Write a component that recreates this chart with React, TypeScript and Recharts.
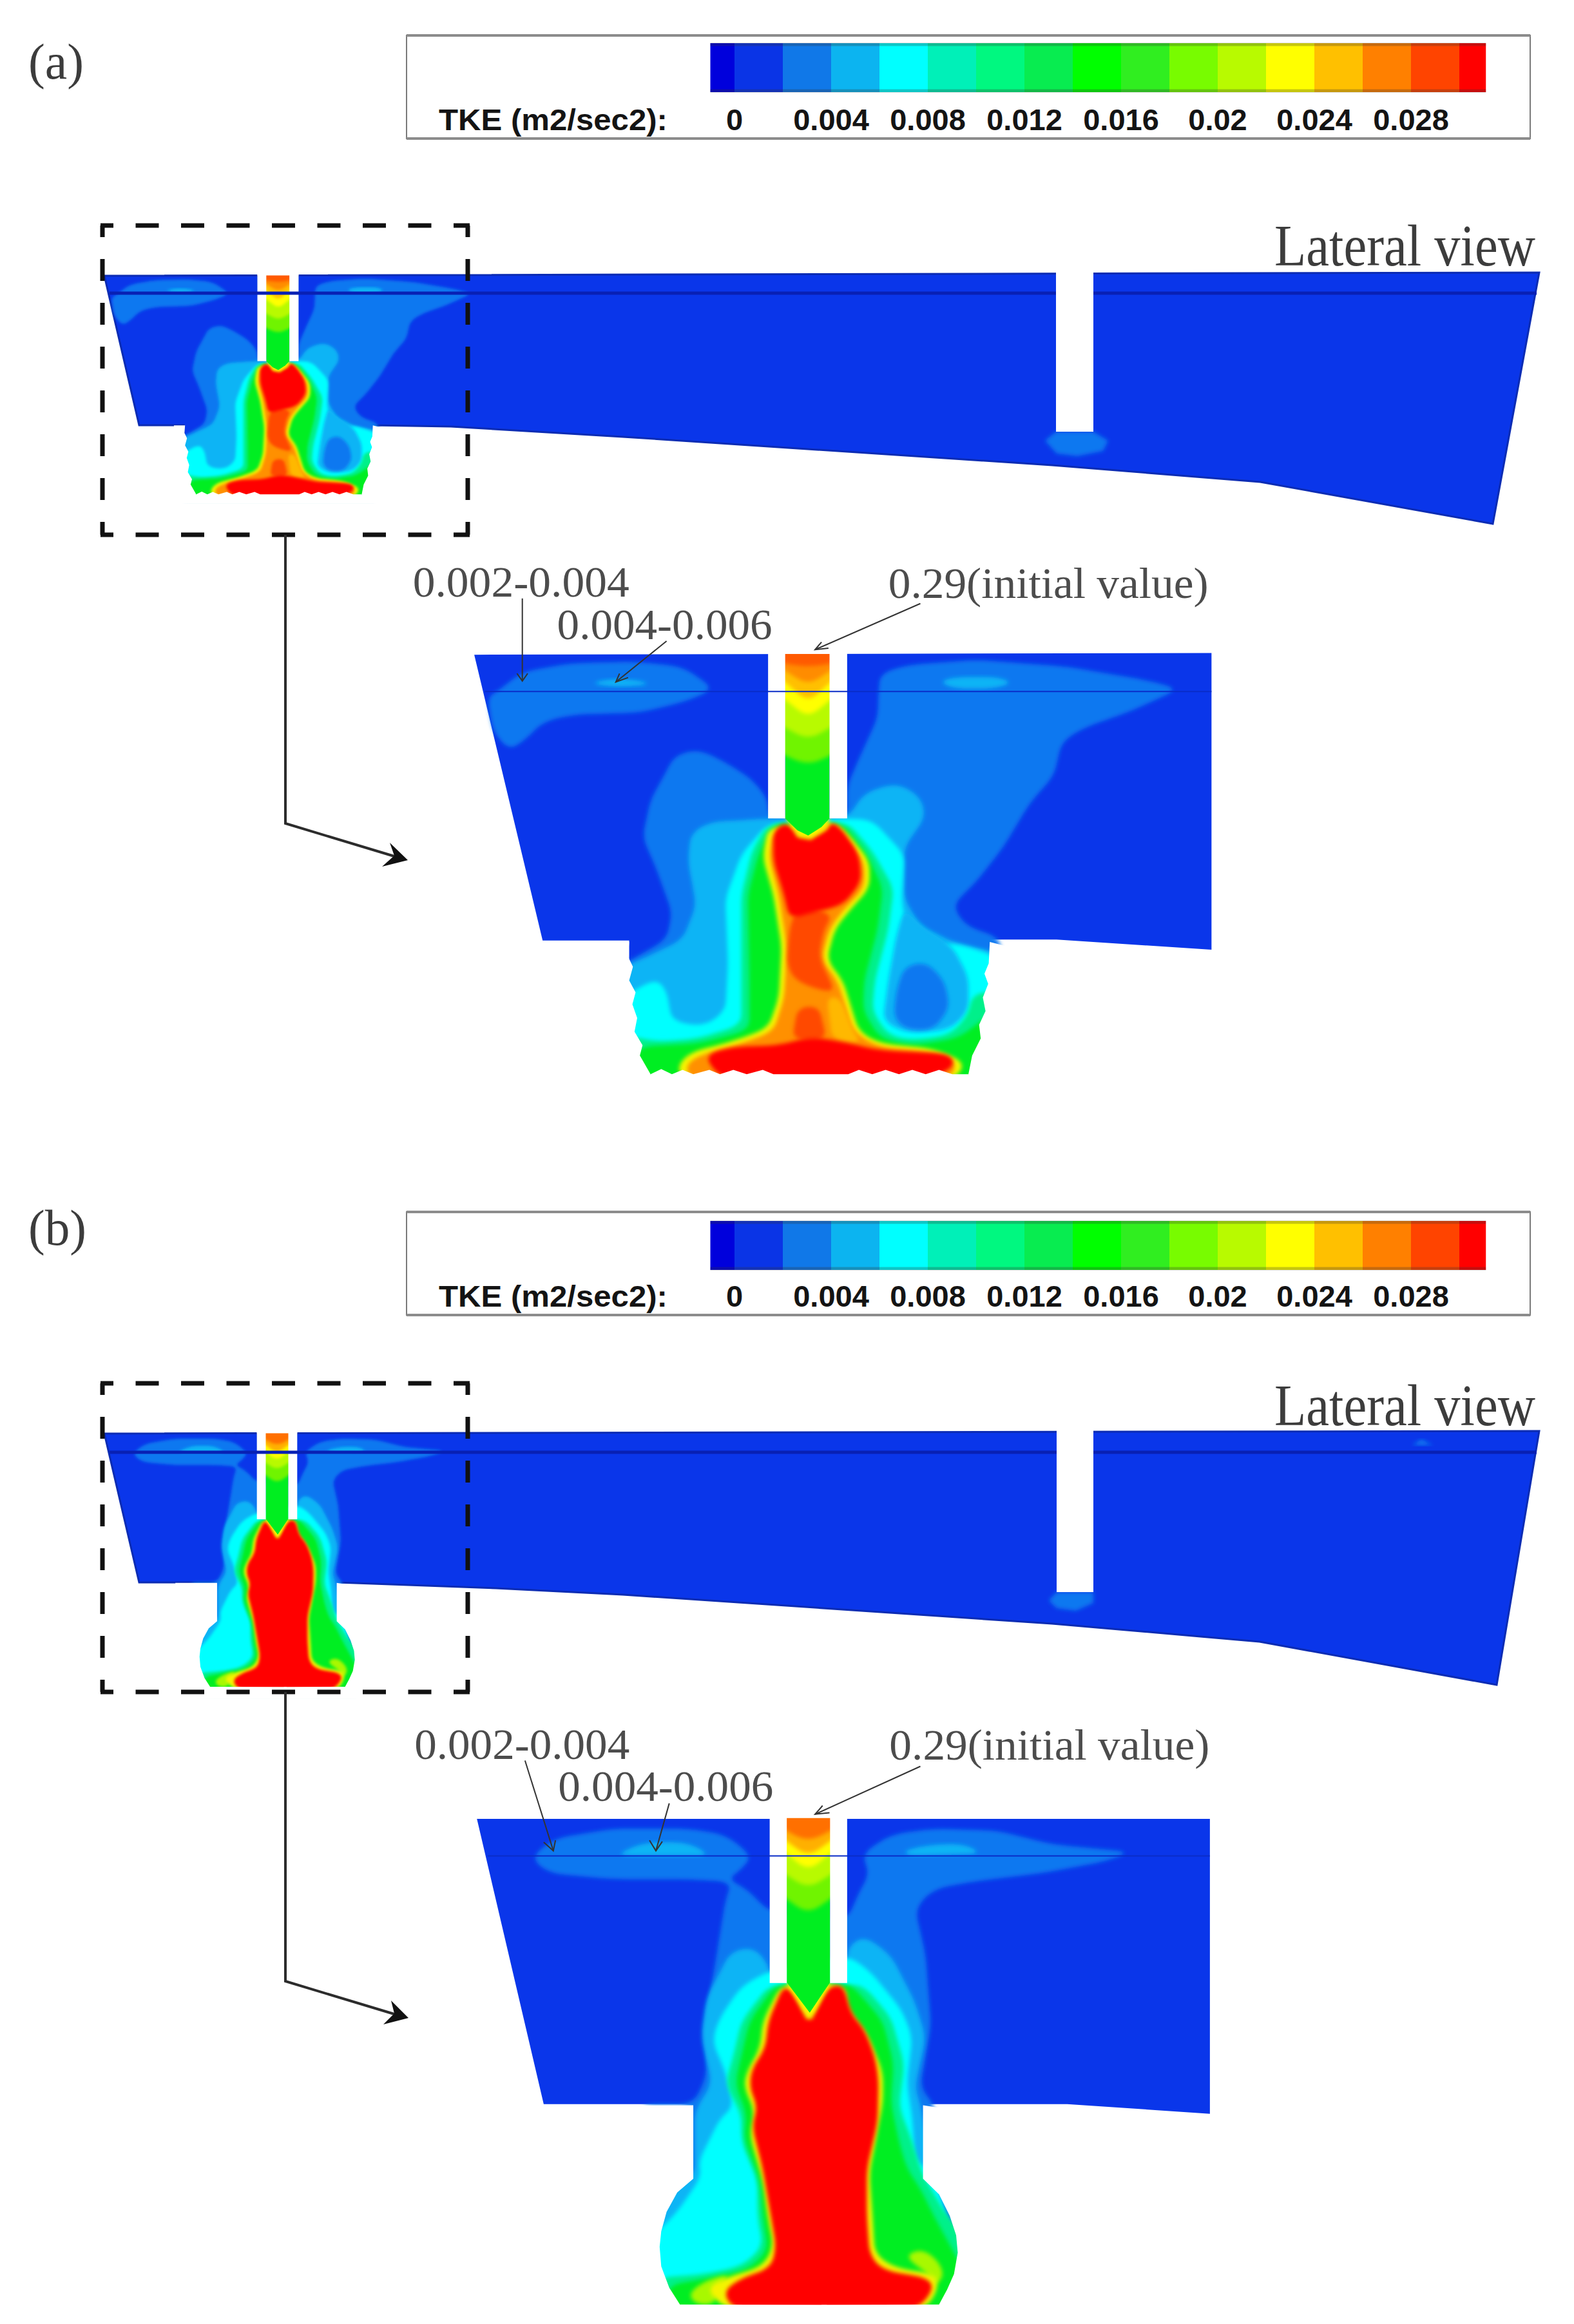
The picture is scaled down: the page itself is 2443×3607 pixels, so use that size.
import React from 'react';
import { ScatterChart, Scatter, XAxis, YAxis, Curve } from 'recharts';

type P = [number, number];
const W = 2443, H = 3607;

// ---------- legend ----------
const legendEdges = [-0.001, 0, 0.002, 0.004, 0.006, 0.008, 0.01, 0.012, 0.014, 0.016, 0.018, 0.02, 0.022, 0.024, 0.026, 0.028, 0.03, 0.0311];
const legendColors = ['#0000dc', '#0a34e6', '#1078e8', '#0cb4f0', '#00ffff', '#00f0b8', '#00f880', '#08ec50', '#00ff00', '#30ee20', '#78fc00', '#b8fa00', '#ffff00', '#ffc000', '#ff8000', '#ff4400', '#ff0000'];
const legendTicks = [0, 0.004, 0.008, 0.012, 0.016, 0.02, 0.024, 0.028];
const legendTickLabels = ['0', '0.004', '0.008', '0.012', '0.016', '0.02', '0.024', '0.028'];
const legendRows = [
  { barTop: 67, barBottom: 143, boxTop: 55, boxBottom: 215, baseline: 202 },
  { barTop: 1895, barBottom: 1971, boxTop: 1881, boxBottom: 2041, baseline: 2028 },
];

// ---------- whole-channel outlines (page units) ----------
const miniBodyA: P[] = [[162, 428], [2389, 423], [2317, 813], [1956, 748], [1633, 722], [967, 678], [700, 662], [578, 660], [571, 723], [559, 767], [301, 767], [287, 697], [285, 660], [216, 660]];
const miniBodyB: P[] = [[162, 2225], [2389, 2221], [2323, 2615], [1955, 2548], [1633, 2520], [967, 2475], [770, 2465], [524, 2456], [524, 2517], [540, 2535], [552, 2567], [538, 2618], [328, 2618], [310, 2567], [322, 2535], [338, 2517], [338, 2456], [216, 2456]];
const miniSurfaceA: P[] = [[170, 455], [2385, 455]];
const miniSurfaceB: P[] = [[170, 2254], [2385, 2254]];
const baffleA: P[] = [[1639, 415], [1697, 415], [1697, 670], [1639, 670]];
const baffleB: P[] = [[1640, 2215], [1697, 2215], [1697, 2471], [1640, 2471]];
const wakeA: P[] = [[1622, 684], [1639, 670], [1697, 670], [1720, 684], [1712, 700], [1672, 708], [1640, 704]];
const wakeB: P[] = [[1628, 2484], [1640, 2471], [1697, 2471], [1697, 2488], [1670, 2500], [1640, 2496]];
const speckB: P[] = [[2192, 2243], [2206, 2234], [2224, 2243]];
const dashBoxA = { left: 159, right: 726, top: 350, bottom: 830 };
const dashBoxB = { left: 159, right: 726, top: 2147, bottom: 2626 };
const leaderA: P[] = [[443, 830], [443, 1278], [612, 1329]];
const leaderB: P[] = [[443, 2626], [443, 3075], [612, 3126]];
const headA: P[] = [[633, 1335], [605, 1308], [612, 1328], [593, 1345]];
const headB: P[] = [[634, 3132], [607, 3105], [612, 3125], [595, 3142]];

// ---------- panel (a) contours (inset units) ----------
const aBody: P[] = [[140, 295], [1520, 290], [1520, 1160], [1230, 1130], [1105, 1130], [1105, 1530], [430, 1530], [430, 1133], [268, 1133]];
const aSurface: P[] = [[160, 403], [1520, 403]];
const aLobeLeft: P[] = [[185, 400], [230, 345], [320, 320], [440, 315], [530, 330], [590, 395], [540, 430], [450, 465], [330, 470], [270, 490], [235, 545], [205, 575], [175, 520], [165, 420]];
const aMid: P[] = [[515, 590], [560, 572], [610, 610], [660, 660], [690, 720], [690, 770], [838, 770], [838, 680], [860, 600], [895, 480], [897, 400], [900, 350], [950, 325], [1080, 310], [1250, 330], [1400, 370], [1460, 395], [1370, 460], [1280, 510], [1240, 550], [1225, 650], [1180, 730], [1130, 860], [1080, 960], [1035, 1030], [1060, 1090], [1125, 1125], [1130, 1560], [405, 1560], [405, 1215], [500, 1130], [510, 1050], [480, 920], [455, 830], [470, 720], [495, 650]];
const aPatchLeft: P[] = [[355, 378], [400, 365], [450, 370], [470, 383], [400, 390]];
const aPatchRight: P[] = [[1010, 375], [1040, 360], [1120, 360], [1148, 378], [1110, 395], [1040, 395]];
const aLight: P[] = [[545, 820], [580, 785], [640, 780], [690, 775], [838, 775], [870, 700], [930, 670], [975, 710], [985, 770], [945, 860], [945, 1010], [975, 1090], [1040, 1140], [1125, 1170], [1130, 1560], [405, 1560], [405, 1220], [450, 1190], [530, 1130], [555, 1030], [540, 900]];
const aCyan: P[] = [[838, 775], [885, 780], [945, 880], [940, 1020], [950, 1100], [1000, 1150], [1040, 1140], [1120, 1180], [1130, 1560], [405, 1560], [415, 1300], [480, 1245], [500, 1280], [510, 1370], [570, 1385], [610, 1340], [615, 1200], [610, 1010], [640, 880], [690, 790]];
const aInnerLight: P[] = [[945, 1040], [975, 1090], [1035, 1150], [1065, 1240], [1065, 1340], [1030, 1395], [950, 1405], [905, 1370], [915, 1250], [930, 1120]];
const aHole: P[] = [[945, 1210], [985, 1195], [1020, 1250], [1030, 1330], [1000, 1395], [950, 1395], [925, 1360], [930, 1280]];
const aSpring: P[] = [[690, 790], [660, 870], [640, 1000], [640, 1250], [640, 1380], [560, 1420], [480, 1430], [425, 1410], [415, 1560], [1125, 1560], [1120, 1280], [1072, 1290], [1065, 1350], [1030, 1410], [960, 1425], [915, 1410], [885, 1340], [890, 1250], [915, 1100], [925, 980], [885, 870], [838, 785]];
const aGreen: P[] = [[700, 790], [672, 880], [652, 1000], [655, 1250], [655, 1395], [560, 1435], [445, 1445], [425, 1560], [1110, 1560], [1105, 1350], [1045, 1420], [960, 1440], [900, 1420], [868, 1340], [870, 1250], [895, 1100], [905, 980], [875, 880], [830, 790]];
const aYellow: P[] = [[690, 800], [680, 890], [700, 1000], [715, 1150], [710, 1300], [690, 1390], [620, 1430], [545, 1460], [520, 1500], [530, 1540], [1040, 1540], [1060, 1490], [1000, 1450], [900, 1435], [860, 1400], [830, 1250], [800, 1190], [815, 1100], [840, 1050], [880, 980], [880, 900], [840, 820], [815, 785]];
const aOrange: P[] = [[700, 810], [692, 890], [710, 1000], [725, 1150], [720, 1300], [700, 1400], [630, 1440], [560, 1470], [535, 1500], [545, 1540], [1030, 1540], [1045, 1490], [995, 1460], [895, 1445], [850, 1400], [820, 1250], [790, 1190], [805, 1100], [830, 1045], [870, 980], [870, 900], [830, 825], [810, 790]];
const aAmber: P[] = [[800, 1300], [825, 1300], [850, 1400], [865, 1435], [810, 1425]];
const aRedOrange: P[] = [[740, 1050], [780, 1040], [810, 1060], [795, 1100], [785, 1180], [815, 1280], [790, 1280], [740, 1250], [725, 1200], [730, 1100]];
const aRedOrangeLow: P[] = [[745, 1330], [785, 1325], [800, 1425], [735, 1425]];
const aRedTop: P[] = [[700, 810], [725, 785], [745, 825], [770, 830], [800, 810], [810, 785], [830, 810], [860, 880], [865, 960], [830, 1030], [775, 1050], [730, 1070], [720, 1000], [700, 900]];
const aRedBase: P[] = [[570, 1470], [620, 1445], [710, 1440], [770, 1415], [830, 1430], [900, 1455], [1030, 1465], [1040, 1500], [1000, 1535], [600, 1535]];
const aMaskLeft: P[] = [[390, 1137], [430, 1137], [428, 1180], [437, 1210], [430, 1250], [442, 1285], [436, 1320], [445, 1360], [440, 1400], [455, 1440], [450, 1470], [470, 1525], [470, 1575], [390, 1575]];
const aMaskRight: P[] = [[1150, 1155], [1105, 1137], [1103, 1200], [1095, 1230], [1102, 1260], [1092, 1300], [1097, 1340], [1085, 1380], [1088, 1420], [1072, 1470], [1065, 1525], [1065, 1575], [1150, 1575]];
const aTeeth: P[] = [[460, 1575], [470, 1525], [490, 1510], [510, 1525], [530, 1512], [550, 1525], [580, 1512], [600, 1525], [625, 1512], [650, 1525], [680, 1512], [700, 1525], [840, 1525], [860, 1512], [885, 1525], [910, 1512], [935, 1525], [960, 1512], [985, 1525], [1010, 1512], [1035, 1525], [1065, 1525], [1075, 1575]];
const aSlotLeft: P[] = [[690, 285], [722, 285], [722, 775], [690, 775]];
const aSlotRight: P[] = [[805, 285], [838, 285], [838, 775], [805, 775]];
const aStemCap: P[] = [[690, 220], [838, 220], [838, 293], [690, 293]];
const aStemRim: P[] = [[722, 770], [805, 770], [800, 805], [770, 838], [745, 830], [735, 800]];
const aStem0: P[] = [[722, 295], [805, 295], [805, 775], [790, 800], [765, 825], [745, 810], [722, 775]];
const aStem1: P[] = [[700, 265], [828, 265], [828, 575], [765, 620], [700, 575]];
const aStem2: P[] = [[700, 265], [828, 265], [828, 490], [765, 545], [700, 490]];
const aStem3: P[] = [[700, 265], [828, 265], [828, 400], [765, 480], [700, 400]];
const aStem4: P[] = [[700, 265], [828, 265], [828, 345], [765, 435], [700, 345]];
const aStem5: P[] = [[700, 265], [828, 265], [828, 320], [765, 385], [700, 320]];
const aStem6: P[] = [[700, 265], [828, 265], [828, 315], [765, 332], [700, 315]];
const aArrows: P[][] = [
  [[230, 130], [230, 372]], [[220, 350], [230, 372], [240, 350]],
  [[500, 255], [405, 375]], [[412, 350], [405, 375], [428, 362]],
  [[975, 145], [778, 280]], [[790, 258], [778, 280], [803, 276]],
];

// ---------- panel (b) contours (inset units) ----------
const bBody: P[] = [[145, 270], [1517, 270], [1517, 1028], [1250, 1003], [980, 1003], [980, 1195], [1025, 1260], [1045, 1370], [1040, 1440], [1010, 1518], [525, 1518], [495, 1440], [487, 1370], [500, 1280], [550, 1195], [550, 1003], [270, 1003]];
const bSurface: P[] = [[165, 365], [1517, 365]];
const bMid: P[] = [[245, 370], [290, 320], [400, 295], [540, 295], [610, 310], [660, 365], [640, 400], [615, 425], [650, 450], [693, 510], [838, 530], [860, 460], [880, 410], [865, 360], [920, 310], [1000, 295], [1120, 300], [1220, 335], [1370, 355], [1320, 380], [1200, 410], [1080, 430], [1000, 450], [965, 500], [985, 620], [995, 800], [975, 960], [1000, 1003], [1080, 1560], [450, 1560], [450, 1003], [550, 1003], [575, 930], [570, 800], [590, 650], [610, 480], [622, 432], [540, 425], [400, 425], [280, 410]];
const bPatchLeft: P[] = [[415, 355], [460, 330], [540, 330], [585, 365], [415, 365]];
const bPatchRight: P[] = [[945, 350], [1000, 335], [1060, 335], [1090, 360], [950, 365]];
const bLight: P[] = [[620, 610], [665, 600], [693, 650], [693, 690], [838, 690], [838, 600], [870, 570], [920, 620], [965, 740], [985, 830], [965, 960], [975, 1003], [1000, 1190], [1080, 1560], [450, 1560], [450, 1200], [553, 1190], [553, 1020], [585, 950], [565, 830], [575, 730]];
const bCyan: P[] = [[600, 780], [640, 700], [693, 660], [838, 620], [880, 660], [940, 760], [960, 830], [950, 950], [960, 1040], [965, 1150], [1000, 1180], [1080, 1560], [460, 1560], [470, 1350], [520, 1280], [565, 1190], [560, 1150], [600, 1040], [625, 1010], [610, 920], [585, 840]];
const bSpring: P[] = [[693, 695], [640, 790], [625, 880], [610, 950], [640, 1030], [640, 1100], [670, 1200], [670, 1290], [680, 1370], [640, 1420], [570, 1440], [480, 1450], [490, 1560], [1080, 1560], [1080, 1370], [1025, 1290], [990, 1210], [975, 1170], [960, 1100], [935, 1010], [945, 900], [920, 780], [870, 700], [838, 695]];
const bGreen: P[] = [[705, 695], [655, 790], [640, 880], [628, 950], [650, 1030], [645, 1090], [675, 1200], [680, 1290], [690, 1380], [650, 1430], [560, 1455], [500, 1470], [510, 1560], [1060, 1560], [1060, 1440], [1000, 1290], [975, 1220], [950, 1170], [935, 1100], [920, 1000], [925, 900], [905, 790], [855, 710], [838, 695]];
const bLime: P[] = [[945, 1395], [975, 1375], [1005, 1400], [1020, 1440], [1005, 1470], [990, 1440]];
const bLimeLeft: P[] = [[540, 1490], [575, 1455], [620, 1440], [600, 1470], [590, 1518], [555, 1518]];
const bYellow: P[] = [[715, 695], [680, 790], [675, 860], [650, 920], [645, 960], [665, 1020], [655, 1080], [680, 1200], [690, 1300], [700, 1370], [680, 1420], [600, 1455], [575, 1480], [610, 1530], [985, 1530], [1008, 1480], [1005, 1440], [930, 1425], [890, 1390], [885, 1280], [880, 1180], [905, 1000], [905, 920], [875, 820], [840, 760], [835, 695]];
const bRed: P[] = [[720, 695], [745, 730], [768, 785], [795, 720], [810, 698], [832, 700], [845, 770], [870, 810], [890, 880], [897, 940], [895, 1050], [875, 1170], [875, 1290], [880, 1390], [905, 1430], [990, 1450], [1000, 1480], [970, 1530], [625, 1530], [605, 1485], [640, 1450], [695, 1425], [705, 1370], [695, 1290], [680, 1170], [660, 1060], [670, 1010], [655, 960], [660, 910], [685, 860], [690, 790]];
const bMaskLeft: P[] = [[400, 1006], [550, 1006], [550, 1195], [520, 1230], [500, 1280], [490, 1330], [487, 1370], [490, 1420], [505, 1475], [525, 1518], [800, 1519], [800, 1575], [400, 1575]];
const bMaskRight: P[] = [[1140, 1040], [980, 1006], [980, 1195], [1010, 1235], [1030, 1290], [1042, 1340], [1045, 1385], [1038, 1440], [1025, 1480], [1010, 1518], [790, 1519], [790, 1575], [1140, 1575]];
const bSlotLeft: P[] = [[693, 262], [725, 262], [725, 692], [693, 692]];
const bSlotRight: P[] = [[806, 262], [838, 262], [838, 692], [806, 692]];
const bStemCap: P[] = [[693, 200], [838, 200], [838, 268], [693, 268]];
const bStemRim: P[] = [[725, 688], [806, 688], [772, 785], [762, 785]];
const bStem0: P[] = [[725, 270], [806, 270], [806, 690], [768, 768], [725, 690]];
const bStem1: P[] = [[703, 240], [828, 240], [828, 455], [765, 515], [703, 455]];
const bStem2: P[] = [[703, 240], [828, 240], [828, 395], [765, 450], [703, 395]];
const bStem3: P[] = [[703, 240], [828, 240], [828, 335], [765, 405], [703, 335]];
const bStem4: P[] = [[703, 240], [828, 240], [828, 305], [765, 368], [703, 305]];
const bStem5: P[] = [[703, 240], [828, 240], [828, 285], [765, 330], [703, 285]];
const bArrows: P[][] = [
  [[235, 120], [288, 352]], [[270, 330], [288, 352], [292, 325]],
  [[505, 230], [480, 352]], [[468, 325], [480, 352], [492, 328]],
  [[975, 135], [778, 258]], [[792, 236], [778, 258], [805, 254]],
];

const aLabels = [
  { x: 25, y: 125, text: '0.002-0.004', span: 336 },
  { x: 295, y: 250, text: '0.004-0.006', span: 334 },
  { x: 915, y: 128, text: '0.29(initial value)', span: 497 },
];
const bLabels = [
  { x: 28, y: 116, text: '0.002-0.004', span: 334 },
  { x: 297, y: 224, text: '0.004-0.006', span: 334 },
  { x: 917, y: 118, text: '0.29(initial value)', span: 497 },
];
const pageLabels = [
  { x: 44, y: 122, text: '(a)', span: 86, size: 78 },
  { x: 44, y: 1932, text: '(b)', span: 90, size: 78 },
  { x: 1978, y: 412, text: 'Lateral view', span: 405, size: 90 },
  { x: 1978, y: 2212, text: 'Lateral view', span: 405, size: 90 },
];

// ---------- colours ----------
const C = {
  base: '#0a36ea', mid: '#0f78f0', light: '#0cb4f5', cyan: '#00ffff', spring: '#00f08a', green: '#00ee20',
  lime: '#a8f800', yellow: '#f4f400', amber: '#ffb800', orange: '#ff9000', redOrange: '#ff4800', red: '#ff0000',
};

// ---------- helpers ----------
const dom = (off: number, k: number, len: number): [number, number] => [-off * k, (len - off) * k];
const pts = (a: P[]) => a.map(([x, y]) => ({ x, y }));
const empty = () => <g />;

// rounds polygon corners so contour bands read as smooth isolines
function rounded(a: P[], R = 30): P[] {
  const out: P[] = [];
  const n = a.length;
  for (let i = 0; i < n; i++) {
    const p = a[i], u = a[(i + n - 1) % n], v = a[(i + 1) % n];
    const du = Math.hypot(u[0] - p[0], u[1] - p[1]) || 1;
    const dv = Math.hypot(v[0] - p[0], v[1] - p[1]) || 1;
    const ru = Math.min(R, du / 2) / du, rv = Math.min(R, dv / 2) / dv;
    const s: P = [p[0] + (u[0] - p[0]) * ru, p[1] + (u[1] - p[1]) * ru];
    const e: P = [p[0] + (v[0] - p[0]) * rv, p[1] + (v[1] - p[1]) * rv];
    for (let k = 0; k <= 5; k++) {
      const t = k / 5;
      out.push([
        (1 - t) * (1 - t) * s[0] + 2 * t * (1 - t) * p[0] + t * t * e[0],
        (1 - t) * (1 - t) * s[1] + 2 * t * (1 - t) * p[1] + t * t * e[1],
      ]);
    }
  }
  return out;
}

let seq = 0;
type Opt = { stroke?: string; sw?: number; dash?: string; dashOffset?: number; blur?: boolean; sharp?: boolean; open?: boolean; yAxis?: string; opacity?: number };
function poly(a: P[], axis: string, fill: string, o: Opt = {}) {
  const line = (p: any) => {
    const c = (
      <Curve
        points={p.points}
        type={o.open ? 'linear' : 'linearClosed'}
        fill={o.open ? 'none' : fill}
        stroke={o.stroke ?? 'none'}
        strokeWidth={o.sw ?? 0}
        strokeDasharray={o.dash}
        strokeDashoffset={o.dashOffset}
        strokeOpacity={o.opacity}
      />
    );
    return o.blur ? <g filter={axis[0] === 'm' ? 'url(#softMini)' : 'url(#soft)'}>{c}</g> : c;
  };
  const data = o.blur && !o.sharp ? rounded(a) : a;
  return (
    <Scatter key={`p${seq++}`} data={pts(data)} xAxisId={axis} yAxisId={o.yAxis ?? axis} isAnimationActive={false} line={line as any} lineType="joint" shape={empty as any} />
  );
}
function text(d: { x: number; y: number; text: string; span?: number; size?: number }, axis: string, style: any, yAxis?: string) {
  const shape = (p: any) => (
    <text x={p.cx} y={p.cy} textLength={d.span} lengthAdjust={d.span ? 'spacingAndGlyphs' : undefined} {...style} fontSize={d.size ?? style.fontSize}>
      {d.text}
    </text>
  );
  return <Scatter key={`t${seq++}`} data={[{ x: d.x, y: d.y }]} xAxisId={axis} yAxisId={yAxis ?? axis} isAnimationActive={false} shape={shape as any} />;
}
function dashedBox(b: { left: number; right: number; top: number; bottom: number }) {
  const h = { stroke: '#111', sw: 7, dash: '36 34.5', dashOffset: 16, open: true };
  const v = { stroke: '#111', sw: 7, dash: '34 34', dashOffset: 16, open: true };
  return [
    poly([[b.left - 3, b.top], [b.right + 3, b.top]], 'page', 'none', h),
    poly([[b.left - 3, b.bottom], [b.right + 3, b.bottom]], 'page', 'none', h),
    poly([[b.left, b.top], [b.left, b.bottom]], 'page', 'none', v),
    poly([[b.right, b.top], [b.right, b.bottom]], 'page', 'none', v),
  ];
}

const contourA = (ax: string) => [
  poly(aLobeLeft, ax, C.mid, { blur: true }),
  poly(aMid, ax, C.mid, { blur: true }),
  poly(aPatchLeft, ax, C.light, { blur: true }),
  poly(aPatchRight, ax, C.light, { blur: true }),
  poly(aLight, ax, C.light, { blur: true }),
  poly(aCyan, ax, C.cyan, { blur: true }),
  poly(aInnerLight, ax, C.light, { blur: true }),
  poly(aHole, ax, C.mid, { blur: true }),
  poly(aSpring, ax, C.spring, { blur: true }),
  poly(aGreen, ax, C.green, { blur: true }),
  poly(aYellow, ax, C.yellow, { blur: true }),
  poly(aOrange, ax, C.orange, { blur: true }),
  poly(aAmber, ax, C.amber, { blur: true }),
  poly(aRedOrange, ax, C.redOrange, { blur: true }),
  poly(aRedOrangeLow, ax, C.redOrange, { blur: true }),
  poly(aRedTop, ax, C.red, { blur: true }),
  poly(aRedBase, ax, C.red, { blur: true }),
  poly(aMaskLeft, ax, '#fff'),
  poly(aMaskRight, ax, '#fff'),
  poly(aTeeth, ax, '#fff'),
  poly(aStemRim, ax, C.yellow, { blur: true, sharp: true }),
  poly(aStem0, ax, '#00ee20'),
  poly(aStem1, ax, '#70f400', { blur: true }),
  poly(aStem2, ax, '#b8fa00', { blur: true }),
  poly(aStem3, ax, '#ffff00', { blur: true }),
  poly(aStem4, ax, '#ffc000', { blur: true }),
  poly(aStem5, ax, '#ff8c00', { blur: true }),
  poly(aStem6, ax, '#ff5a00', { blur: true }),
  poly(aSlotLeft, ax, '#fff'),
  poly(aSlotRight, ax, '#fff'),
  poly(aStemCap, ax, '#fff'),
];
const contourB = (ax: string) => [
  poly(bMid, ax, C.mid, { blur: true }),
  poly(bPatchLeft, ax, C.light, { blur: true }),
  poly(bPatchRight, ax, C.light, { blur: true }),
  poly(bLight, ax, C.light, { blur: true }),
  poly(bCyan, ax, C.cyan, { blur: true }),
  poly(bSpring, ax, C.spring, { blur: true }),
  poly(bGreen, ax, C.green, { blur: true }),
  poly(bLime, ax, C.lime, { blur: true }),
  poly(bLimeLeft, ax, C.lime, { blur: true }),
  poly(bYellow, ax, C.yellow, { blur: true }),
  poly(bRed, ax, C.red, { blur: true }),
  poly(bMaskLeft, ax, '#fff'),
  poly(bMaskRight, ax, '#fff'),
  poly(bStemRim, ax, C.yellow, { blur: true, sharp: true }),
  poly(bStem0, ax, '#00ee20'),
  poly(bStem1, ax, '#70f400', { blur: true }),
  poly(bStem2, ax, '#b8fa00', { blur: true }),
  poly(bStem3, ax, '#ffff00', { blur: true }),
  poly(bStem4, ax, '#ffb000', { blur: true }),
  poly(bStem5, ax, '#ff7000', { blur: true }),
  poly(bSlotLeft, ax, '#fff'),
  poly(bSlotRight, ax, '#fff'),
  poly(bStemCap, ax, '#fff'),
];

const xAxes: [string, number, number][] = [
  ['page', 0, 1], ['ia', 620, 1.206], ['ib', 620, 1.206], ['ma', 101.5, 2.3155], ['mb', 99.4, 2.3155], ['tke', 1140, 1 / 37500],
];
const yAxes: [string, number, number][] = [
  ['page', 0, 1], ['ia', 860, 1.889], ['ib', 2660, 1.656], ['ma', 346.7, 3.627], ['mb', 2140, 3.176],
];

const sans = { fontFamily: '"Liberation Sans", Arial, sans-serif', fontWeight: 700, fill: '#141414' };
const serif = { fontFamily: '"Liberation Serif", serif', fill: '#4c4c4c' };

export default function App() {
  seq = 0;
  return (
    <div style={{ position: 'absolute', left: 0, top: 0, width: W, height: H, background: '#fff' }}>
      <ScatterChart width={W} height={H} margin={{ top: 0, right: 0, bottom: 0, left: 0 }}>
        <defs>
          <filter id="soft" x="-20%" y="-20%" width="140%" height="140%">
            <feGaussianBlur stdDeviation="3.2" />
          </filter>
          <filter id="softMini" x="-20%" y="-20%" width="140%" height="140%">
            <feGaussianBlur stdDeviation="2" />
          </filter>
        </defs>
        {xAxes.map(([id, off, k]) => (
          <XAxis key={id} xAxisId={id} type="number" dataKey="x" domain={dom(off, k, W)} allowDataOverflow hide />
        ))}
        {yAxes.map(([id, off, k]) => (
          <YAxis key={id} yAxisId={id} type="number" dataKey="y" domain={dom(off, k, H)} allowDataOverflow reversed hide />
        ))}

        {/* legends */}
        {legendRows.flatMap((r) => [
          poly([[631, r.boxTop], [2375, r.boxTop], [2375, r.boxBottom], [631, r.boxBottom]], 'page', '#fff', { stroke: '#7a7a7a', sw: 2 }),
          poly([[631, r.boxTop], [2375, r.boxTop]], 'page', 'none', { stroke: '#8c8c8c', sw: 4, open: true }),
          poly([[631, r.boxBottom], [2375, r.boxBottom]], 'page', 'none', { stroke: '#8c8c8c', sw: 4, open: true }),
          ...legendColors.map((c, i) =>
            poly([[legendEdges[i], r.barTop], [legendEdges[i + 1], r.barTop], [legendEdges[i + 1], r.barBottom], [legendEdges[i], r.barBottom]], 'tke', c, { yAxis: 'page' })
          ),
          poly([[legendEdges[0], r.barTop + 2], [legendEdges[17], r.barTop + 2]], 'tke', 'none', { stroke: '#333', sw: 5, open: true, yAxis: 'page', opacity: 0.28 }),
          poly([[legendEdges[0], r.barBottom - 2], [legendEdges[17], r.barBottom - 2]], 'tke', 'none', { stroke: '#333', sw: 5, open: true, yAxis: 'page', opacity: 0.28 }),
          text({ x: 681, y: r.baseline, text: 'TKE (m2/sec2):', span: 355 }, 'page', { ...sans, fontSize: 46 }),
          ...legendTicks.map((v, i) =>
            text({ x: v, y: r.baseline, text: legendTickLabels[i] }, 'tke', { ...sans, fontSize: 47, textAnchor: 'middle' }, 'page')
          ),
        ])}

        {/* full lateral views */}
        {poly(miniBodyA, 'page', C.base, { stroke: '#0c2cb4', sw: 3 })}
        {poly(wakeA, 'page', C.mid, { blur: true, sharp: true })}
        {contourA('ma')}
        {poly(miniSurfaceA, 'page', 'none', { stroke: '#0820b4', sw: 5, open: true })}
        {poly(baffleA, 'page', '#fff')}
        {dashedBox(dashBoxA)}

        {poly(miniBodyB, 'page', C.base, { stroke: '#0c2cb4', sw: 3 })}
        {poly(wakeB, 'page', C.mid, { blur: true, sharp: true })}
        {poly(speckB, 'page', C.mid, { blur: true, sharp: true })}
        {contourB('mb')}
        {poly(miniSurfaceB, 'page', 'none', { stroke: '#0820b4', sw: 5, open: true })}
        {poly(baffleB, 'page', '#fff')}
        {dashedBox(dashBoxB)}

        {/* leaders */}
        {poly(leaderA, 'page', 'none', { stroke: '#2c2c2c', sw: 4, open: true })}
        {poly(headA, 'page', '#111')}
        {poly(leaderB, 'page', 'none', { stroke: '#2c2c2c', sw: 4, open: true })}
        {poly(headB, 'page', '#111')}

        {/* enlarged views */}
        {poly(aBody, 'ia', C.base)}
        {contourA('ia')}
        {poly(aSurface, 'ia', 'none', { stroke: '#0a2cc8', sw: 2, open: true })}
        {aArrows.map((a) => poly(a, 'ia', 'none', { stroke: '#333', sw: 2, open: true }))}
        {aLabels.map((d) => text(d, 'ia', { ...serif, fontSize: 68 }))}

        {poly(bBody, 'ib', C.base)}
        {contourB('ib')}
        {poly(bSurface, 'ib', 'none', { stroke: '#0a2cc8', sw: 2, open: true })}
        {bArrows.map((a) => poly(a, 'ib', 'none', { stroke: '#333', sw: 2, open: true }))}
        {bLabels.map((d) => text(d, 'ib', { ...serif, fontSize: 68 }))}

        {pageLabels.map((d) => text(d, 'page', { ...serif, fill: '#3c3c3c' }))}
      </ScatterChart>
    </div>
  );
}
